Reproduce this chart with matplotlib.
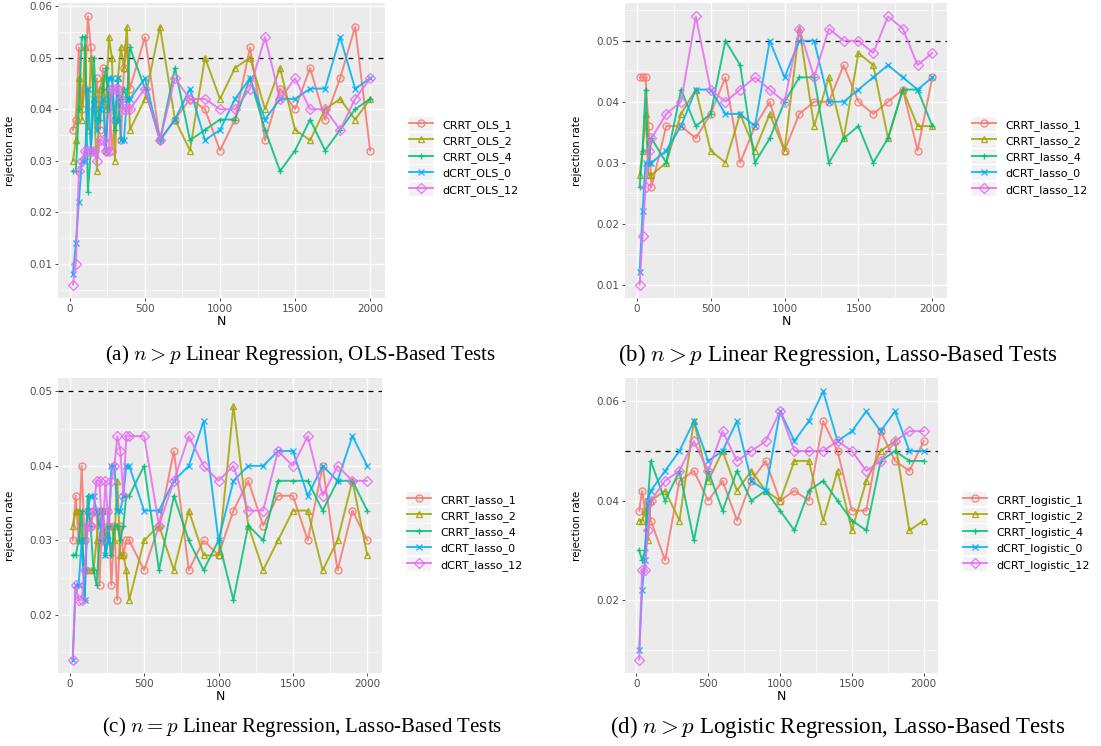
import matplotlib
matplotlib.use('Agg')
import matplotlib.pyplot as plt
from matplotlib.legend_handler import HandlerLine2D
from matplotlib.patches import Rectangle
from matplotlib.ticker import MultipleLocator

# sample sizes
N_dense = [20, 40, 60, 80, 100, 120, 140, 160, 180, 200, 220, 240, 260, 280, 300,
           320, 340, 360, 380, 400, 500, 600, 700, 800, 900, 1000, 1100, 1200,
           1300, 1400, 1500, 1600, 1700, 1800, 1900, 2000]
N_sparse = [20, 40, 60, 80, 100, 200, 300, 400, 500, 600, 700, 800, 900, 1000,
            1100, 1200, 1300, 1400, 1500, 1600, 1700, 1800, 1900, 2000]

# (a) OLS-based tests
a_crrt1 = [0.036, 0.038, 0.052, 0.040, 0.044, 0.058, 0.052, 0.040, 0.046, 0.036,
           0.048, 0.032, 0.044, 0.032, 0.038, 0.044, 0.034, 0.048, 0.052, 0.044,
           0.054, 0.034, 0.038, 0.042, 0.040, 0.032, 0.038, 0.052, 0.034, 0.044,
           0.040, 0.048, 0.038, 0.046, 0.056, 0.032]
a_crrt2 = [0.030, 0.034, 0.046, 0.038, 0.052, 0.036, 0.050, 0.042, 0.028, 0.044,
           0.046, 0.040, 0.054, 0.050, 0.030, 0.046, 0.052, 0.048, 0.056, 0.036,
           0.042, 0.056, 0.038, 0.032, 0.050, 0.042, 0.048, 0.050, 0.040, 0.048,
           0.036, 0.034, 0.040, 0.042, 0.038, 0.042]
a_crrt4 = [0.028, 0.028, 0.040, 0.054, 0.054, 0.024, 0.032, 0.050, 0.038, 0.038,
           0.044, 0.048, 0.040, 0.044, 0.036, 0.038, 0.042, 0.044, 0.042, 0.052,
           0.044, 0.034, 0.048, 0.034, 0.036, 0.038, 0.038, 0.046, 0.036, 0.028,
           0.032, 0.038, 0.032, 0.036, 0.040, 0.042]
a_dcrt0 = [0.008, 0.014, 0.022, 0.030, 0.030, 0.044, 0.032, 0.042, 0.036, 0.040,
           0.042, 0.032, 0.046, 0.046, 0.038, 0.046, 0.034, 0.034, 0.042, 0.042,
           0.046, 0.034, 0.038, 0.044, 0.034, 0.036, 0.042, 0.046, 0.038, 0.042,
           0.042, 0.044, 0.044, 0.054, 0.044, 0.046]
a_dcrt12 = [0.006, 0.010, 0.028, 0.030, 0.032, 0.032, 0.032, 0.032, 0.030, 0.034,
            0.034, 0.032, 0.032, 0.044, 0.044, 0.044, 0.042, 0.040, 0.040, 0.040,
            0.044, 0.034, 0.046, 0.042, 0.042, 0.040, 0.040, 0.044, 0.054, 0.042,
            0.046, 0.040, 0.040, 0.036, 0.042, 0.046]

# (b) lasso-based tests, n > p
b_crrt1 = [0.044, 0.044, 0.044, 0.036, 0.026, 0.036, 0.036, 0.034, 0.038, 0.044,
           0.030, 0.036, 0.040, 0.032, 0.038, 0.040, 0.040, 0.046, 0.040, 0.038,
           0.040, 0.042, 0.032, 0.044]
b_crrt2 = [0.028, 0.032, 0.038, 0.028, 0.028, 0.030, 0.038, 0.042, 0.032, 0.030,
           0.038, 0.032, 0.038, 0.032, 0.052, 0.036, 0.044, 0.034, 0.048, 0.046,
           0.034, 0.042, 0.036, 0.036]
b_crrt4 = [0.026, 0.032, 0.042, 0.030, 0.034, 0.030, 0.042, 0.036, 0.038, 0.050,
           0.046, 0.030, 0.034, 0.040, 0.044, 0.044, 0.030, 0.034, 0.036, 0.030,
           0.034, 0.042, 0.042, 0.036]
b_dcrt0 = [0.012, 0.022, 0.030, 0.030, 0.030, 0.032, 0.036, 0.042, 0.042, 0.038,
           0.038, 0.036, 0.050, 0.044, 0.050, 0.050, 0.040, 0.040, 0.042, 0.044,
           0.046, 0.044, 0.042, 0.044]
b_dcrt12 = [0.010, 0.018, 0.026, 0.032, 0.034, 0.038, 0.040, 0.054, 0.042, 0.040,
            0.042, 0.044, 0.042, 0.040, 0.052, 0.044, 0.052, 0.050, 0.050, 0.048,
            0.054, 0.052, 0.046, 0.048]

# (c) lasso-based tests, n = p
c_crrt1 = [0.030, 0.036, 0.030, 0.040, 0.030, 0.034, 0.032, 0.034, 0.034, 0.024,
           0.034, 0.030, 0.034, 0.024, 0.032, 0.022, 0.032, 0.028, 0.030, 0.030,
           0.026, 0.032, 0.042, 0.026, 0.030, 0.028, 0.034, 0.038, 0.032, 0.036,
           0.036, 0.030, 0.040, 0.026, 0.034, 0.030]
c_crrt2 = [0.032, 0.034, 0.034, 0.030, 0.026, 0.026, 0.026, 0.026, 0.030, 0.034,
           0.034, 0.030, 0.032, 0.032, 0.030, 0.038, 0.028, 0.028, 0.026, 0.022,
           0.030, 0.032, 0.026, 0.034, 0.028, 0.028, 0.048, 0.032, 0.026, 0.030,
           0.034, 0.034, 0.026, 0.030, 0.038, 0.028]
c_crrt4 = [0.028, 0.028, 0.030, 0.034, 0.022, 0.036, 0.032, 0.026, 0.024, 0.030,
           0.034, 0.028, 0.032, 0.028, 0.032, 0.032, 0.030, 0.032, 0.036, 0.036,
           0.040, 0.026, 0.036, 0.030, 0.026, 0.030, 0.022, 0.032, 0.030, 0.038,
           0.038, 0.038, 0.034, 0.038, 0.038, 0.034]
c_dcrt0 = [0.014, 0.024, 0.024, 0.030, 0.022, 0.034, 0.036, 0.036, 0.034, 0.032,
           0.034, 0.028, 0.030, 0.040, 0.040, 0.034, 0.034, 0.036, 0.040, 0.040,
           0.034, 0.034, 0.038, 0.040, 0.046, 0.030, 0.038, 0.040, 0.040, 0.042,
           0.042, 0.036, 0.040, 0.038, 0.044, 0.040]
c_dcrt12 = [0.014, 0.024, 0.022, 0.022, 0.026, 0.032, 0.032, 0.034, 0.038, 0.038,
            0.030, 0.038, 0.032, 0.038, 0.040, 0.044, 0.042, 0.036, 0.044, 0.044,
            0.044, 0.032, 0.038, 0.044, 0.040, 0.038, 0.040, 0.034, 0.034, 0.042,
            0.040, 0.044, 0.036, 0.040, 0.038, 0.038]

# (d) logistic regression, lasso-based tests
d_crrt1 = [0.038, 0.042, 0.038, 0.040, 0.036, 0.028, 0.044, 0.046, 0.040, 0.044,
           0.036, 0.044, 0.048, 0.040, 0.042, 0.040, 0.056, 0.050, 0.038, 0.038,
           0.054, 0.048, 0.046, 0.052]
d_crrt2 = [0.036, 0.036, 0.038, 0.032, 0.040, 0.042, 0.036, 0.056, 0.044, 0.050,
           0.042, 0.046, 0.042, 0.040, 0.048, 0.048, 0.036, 0.046, 0.034, 0.044,
           0.050, 0.052, 0.034, 0.036]
d_crrt4 = [0.030, 0.028, 0.030, 0.040, 0.048, 0.040, 0.046, 0.032, 0.046, 0.038,
           0.046, 0.040, 0.042, 0.038, 0.034, 0.042, 0.044, 0.040, 0.036, 0.034,
           0.048, 0.050, 0.048, 0.048]
d_dcrt0 = [0.010, 0.022, 0.028, 0.040, 0.042, 0.046, 0.050, 0.056, 0.048, 0.050,
           0.056, 0.044, 0.042, 0.058, 0.052, 0.056, 0.062, 0.052, 0.054, 0.058,
           0.054, 0.058, 0.050, 0.050]
d_dcrt12 = [0.008, 0.026, 0.026, 0.034, 0.040, 0.044, 0.046, 0.052, 0.046, 0.054,
            0.048, 0.050, 0.052, 0.058, 0.050, 0.050, 0.050, 0.052, 0.050, 0.046,
            0.048, 0.052, 0.054, 0.054]

colors = ['#F8766D', '#A3A500', '#00BF7D', '#00B0F6', '#E76BF3']
markers = ['o', '^', '+', 'x', 'D']
captions = [r'(a) $n > p$ Linear Regression, OLS-Based Tests',
            r'(b) $n > p$ Linear Regression, Lasso-Based Tests',
            r'(c) $n = p$ Linear Regression, Lasso-Based Tests',
            r'(d) $n > p$ Logistic Regression, Lasso-Based Tests']

plt.rcParams['mathtext.fontset'] = 'cm'


class KeyBox(HandlerLine2D):
    # ggplot-like grey key background
    def create_artists(self, legend, orig_handle, xdescent, ydescent, width,
                       height, fontsize, trans):
        arts = super().create_artists(legend, orig_handle, xdescent, ydescent,
                                      width, height, fontsize, trans)
        bg = Rectangle((-xdescent, -ydescent - 1.2), width, height + 2.4,
                       facecolor='#F2F2F2', edgecolor='none', transform=trans)
        return [bg] + arts


W, H = 1101, 746
fig = plt.figure(figsize=(W / 100, H / 100), dpi=100)

panels = [
    dict(rect=(58, 3, 385, 298), N=N_dense,
         ys=[a_crrt1, a_crrt2, a_crrt4, a_dcrt0, a_dcrt12],
         names=['CRRT_OLS_1', 'CRRT_OLS_2', 'CRRT_OLS_4', 'dCRT_OLS_0', 'dCRT_OLS_12'],
         ystep=0.01, leg=(409, 157), cap=(300, 355), capsize=15),
    dict(rect=(625, 3, 947, 298), N=N_sparse,
         ys=[b_crrt1, b_crrt2, b_crrt4, b_dcrt0, b_dcrt12],
         names=['CRRT_lasso_1', 'CRRT_lasso_2', 'CRRT_lasso_4', 'dCRT_lasso_0', 'dCRT_lasso_12'],
         ystep=0.01, leg=(972, 157), cap=(838, 355), capsize=16.5),
    dict(rect=(58, 378, 382, 673), N=N_dense,
         ys=[c_crrt1, c_crrt2, c_crrt4, c_dcrt0, c_dcrt12],
         names=['CRRT_lasso_1', 'CRRT_lasso_2', 'CRRT_lasso_4', 'dCRT_lasso_0', 'dCRT_lasso_12'],
         ystep=0.01, leg=(407, 532), cap=(302, 727), capsize=15),
    dict(rect=(625, 378, 938, 673), N=N_sparse,
         ys=[d_crrt1, d_crrt2, d_crrt4, d_dcrt0, d_dcrt12],
         names=['CRRT_logistic_1', 'CRRT_logistic_2', 'CRRT_logistic_4',
                'dCRT_logistic_0', 'dCRT_logistic_12'],
         ystep=0.02, leg=(963, 532), cap=(838, 727), capsize=16.5),
]

for p, cap in zip(panels, captions):
    x0, y0, x1, y1 = p['rect']
    ax = fig.add_axes([x0 / W, 1 - y1 / H, (x1 - x0) / W, (y1 - y0) / H])
    ax.set_facecolor('#EBEBEB')
    for s in ax.spines.values():
        s.set_visible(False)

    for y, c, m, name in zip(p['ys'], colors, markers, p['names']):
        ax.plot(p['N'], y, color=c, marker=m, markersize=5, markerfacecolor='none',
                markeredgewidth=1.0, linewidth=1.4, alpha=0.85, label=name)

    ax.axhline(0.05, color='black', linestyle=(0, (4, 4)), linewidth=0.9, zorder=1.5)

    ax.xaxis.set_major_locator(MultipleLocator(500))
    ax.xaxis.set_minor_locator(MultipleLocator(250))
    ax.yaxis.set_major_locator(MultipleLocator(p['ystep']))
    ax.yaxis.set_minor_locator(MultipleLocator(p['ystep'] / 2))
    ax.grid(which='major', color='white', linewidth=1.0)
    ax.grid(which='minor', color='white', linewidth=0.5)
    ax.set_axisbelow(True)
    ax.tick_params(which='major', length=2.5, width=0.6, color='#333333',
                   labelsize=7.5, labelcolor='#4D4D4D', pad=1.5)
    ax.tick_params(which='minor', length=0)
    ax.yaxis.set_major_formatter(matplotlib.ticker.FormatStrFormatter('%.2f'))

    ax.set_xlabel('N', fontsize=9)
    ax.set_ylabel('rejection rate', fontsize=7.5)
    ax.yaxis.set_label_coords(-43 / (x1 - x0), 0.5)
    ax.xaxis.set_label_coords(0.5, -17 / (y1 - y0))

    lx, ly = p['leg']
    ax.legend(loc='center left', bbox_to_anchor=(lx / W, 1 - ly / H),
              bbox_transform=fig.transFigure, frameon=False, fontsize=8,
              borderpad=0, borderaxespad=0, handlelength=2.2, handleheight=1.2,
              labelspacing=0.35, handletextpad=0.8, numpoints=1,
              handler_map={matplotlib.lines.Line2D: KeyBox()})

    cx, cy = p['cap']
    fig.text(cx / W, 1 - cy / H, cap, ha='center', va='center',
             fontsize=p['capsize'], family='Liberation Serif')

fig.savefig('out.png', dpi=100)
